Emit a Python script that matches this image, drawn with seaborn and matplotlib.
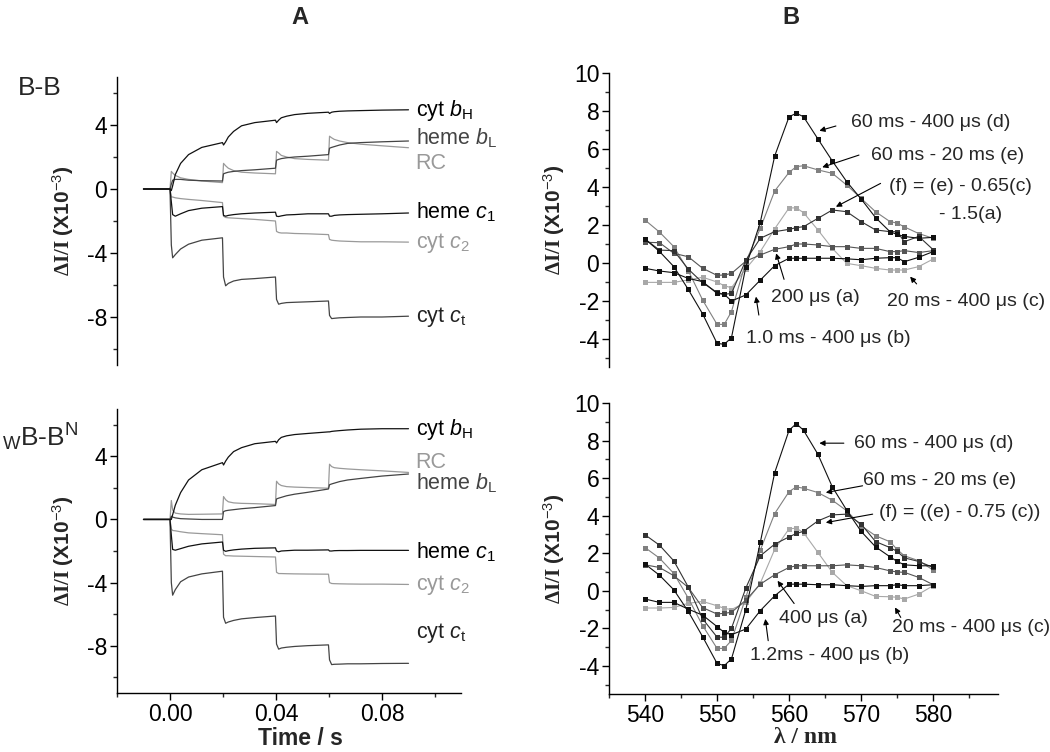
import pandas as pd
import seaborn as sns
import matplotlib.pyplot as plt
from matplotlib.ticker import MultipleLocator

sns.set_style('ticks')
plt.rcParams['font.family'] = ['Liberation Sans', 'DejaVu Sans']
plt.rcParams['mathtext.fontset'] = 'custom'
plt.rcParams['mathtext.rm'] = 'Liberation Sans'
plt.rcParams['mathtext.it'] = 'Liberation Sans:italic'
plt.rcParams['mathtext.bf'] = 'Liberation Serif:bold'
plt.rcParams['axes.unicode_minus'] = False

# ---- panel A: flash-induced kinetic traces (time in s, dI/I x1e-3) ----
time_s = [-0.01, 0.0, 0.0005, 0.001, 0.002, 0.004, 0.007, 0.012, 0.0198, 0.0202,
          0.021, 0.022, 0.024, 0.027, 0.032, 0.0398, 0.0402, 0.041, 0.042, 0.044,
          0.047, 0.052, 0.0598, 0.0602, 0.061, 0.062, 0.064, 0.067, 0.072, 0.08, 0.09]

bb_cyt_bH = [0, 0, -0.1, 0.2, 0.9, 1.6, 2.15, 2.6, 2.9, 2.75, 2.95, 3.25, 3.6, 3.95, 4.15, 4.3,
             4.15, 4.3, 4.45, 4.55, 4.65, 4.73, 4.8, 4.72, 4.8, 4.83, 4.86, 4.88, 4.9, 4.93, 4.95]
bb_heme_bL = [0, 0, 0.3, 0.55, 0.6, 0.6, 0.55, 0.52, 0.5, 0.95, 1.0, 1.05, 1.1, 1.15, 1.2, 1.3,
              1.8, 1.85, 1.9, 1.95, 2.0, 2.05, 2.15, 2.55, 2.6, 2.65, 2.75, 2.85, 2.9, 2.95, 3.0]
bb_RC = [0, 0, 1.1, 1.0, 0.85, 0.7, 0.6, 0.5, 0.4, 1.6, 1.45, 1.3, 1.15, 1.05, 1.0, 0.95,
         2.35, 2.25, 2.1, 2.0, 1.9, 1.85, 1.8, 3.3, 3.2, 3.1, 3.0, 2.9, 2.8, 2.7, 2.58]
bb_heme_c1 = [0, 0, -0.8, -1.6, -1.7, -1.55, -1.35, -1.2, -1.1, -1.65, -1.7, -1.65, -1.6, -1.55, -1.5, -1.45,
              -1.7, -1.72, -1.68, -1.62, -1.6, -1.55, -1.55, -1.7, -1.7, -1.65, -1.62, -1.6, -1.58, -1.55, -1.5]
bb_cyt_c2 = [0, 0, -0.5, -0.5, -0.55, -0.6, -0.65, -0.72, -0.85, -1.7, -1.78, -1.8, -1.82, -1.85, -1.9, -2.0,
             -2.65, -2.72, -2.75, -2.75, -2.78, -2.8, -2.85, -3.15, -3.2, -3.22, -3.25, -3.27, -3.3, -3.3, -3.32]
bb_cyt_ct = [0, 0, -3.5, -4.3, -4.1, -3.75, -3.45, -3.2, -3.05, -5.5, -6.05, -5.9, -5.75, -5.65, -5.6, -5.5,
             -6.9, -7.2, -7.15, -7.1, -7.08, -7.05, -7.0, -7.9, -8.1, -8.08, -8.05, -8.03, -8.0, -8.0, -7.95]

wbn_cyt_bH = [0, 0, 0.0, 0.3, 0.9, 1.7, 2.5, 3.15, 3.6, 3.45, 3.7, 3.95, 4.3, 4.55, 4.8, 4.95,
              4.85, 5.05, 5.2, 5.3, 5.38, 5.45, 5.55, 5.55, 5.58, 5.6, 5.63, 5.67, 5.72, 5.75, 5.75]
wbn_heme_bL = [0, 0, 0.2, 0.15, 0.1, 0.05, 0.03, 0.0, 0.0, 0.5, 0.55, 0.58, 0.62, 0.68, 0.75, 0.88,
               1.3, 1.35, 1.4, 1.5, 1.6, 1.72, 1.93, 2.2, 2.25, 2.3, 2.4, 2.5, 2.6, 2.75, 2.88]
wbn_RC = [0, 0, 1.2, 0.6, 0.4, 0.35, 0.32, 0.33, 0.35, 1.45, 1.25, 1.12, 1.05, 1.02, 1.0, 0.95,
          2.42, 2.25, 2.15, 2.08, 2.05, 2.02, 1.98, 3.5, 3.35, 3.28, 3.24, 3.2, 3.15, 3.08, 2.98]
wbn_heme_c1 = [0, 0, -1.0, -1.9, -1.95, -1.85, -1.7, -1.55, -1.43, -1.95, -2.02, -1.98, -1.93, -1.88, -1.83, -1.8,
               -2.0, -2.05, -2.0, -1.98, -1.95, -1.95, -1.93, -2.0, -2.0, -1.98, -1.97, -1.97, -1.96, -1.96, -1.96]
wbn_cyt_c2 = [0, 0, -0.6, -0.7, -0.72, -0.78, -0.85, -0.9, -0.97, -2.2, -2.3, -2.3, -2.32, -2.33, -2.35, -2.38,
              -3.35, -3.43, -3.43, -3.44, -3.45, -3.46, -3.47, -4.0, -4.06, -4.07, -4.08, -4.09, -4.1, -4.1, -4.12]
wbn_cyt_ct = [0, 0, -4.0, -4.8, -4.45, -3.95, -3.65, -3.45, -3.28, -6.2, -6.58, -6.5, -6.4, -6.3, -6.22, -6.12,
              -7.9, -8.22, -8.15, -8.1, -8.05, -8.0, -7.95, -8.9, -9.2, -9.18, -9.17, -9.15, -9.15, -9.13, -9.12]

# ---- panel B: difference spectra (nm, dI/I x1e-3) ----
wavelength = [540, 542, 544, 546, 548, 550, 551, 552, 554, 556, 558, 560,
              561, 562, 564, 566, 568, 570, 572, 574, 575, 576, 578, 580]

top_a = [1.09, 1.07, 0.51, 0.33, -0.28, -0.65, -0.63, -0.55, 0.10, 0.42, 0.72, 0.86,
         1.00, 1.00, 0.95, 0.86, 0.86, 0.77, 0.77, 0.60, 0.60, 0.65, 0.55, 0.65]
top_b = [-0.28, -0.42, -0.51, -0.81, -0.98, -1.60, -1.65, -2.00, -1.68, -0.90, -0.14, 0.25,
         0.25, 0.25, 0.25, 0.25, 0.22, 0.17, 0.25, 0.28, 0.28, 0.07, 0.30, 0.60]
top_c = [-1.02, -1.02, -1.02, -0.89, -0.75, -1.00, -1.20, -1.30, -0.30, 0.60, 1.80, 2.90,
         2.90, 2.65, 1.74, 0.77, -0.02, -0.14, -0.28, -0.37, -0.37, -0.37, -0.19, 0.21]
top_d = [1.26, 0.61, -0.19, -1.39, -2.68, -4.23, -4.28, -3.93, -0.20, 2.14, 5.63, 7.70,
         7.88, 7.70, 6.53, 5.37, 4.28, 3.37, 2.39, 1.65, 1.50, 1.40, 1.30, 1.35]
top_e = [2.26, 1.63, 0.86, -0.40, -1.95, -3.23, -3.23, -2.56, 0.07, 1.82, 3.79, 4.77,
         5.07, 5.12, 4.90, 4.72, 4.10, 3.40, 2.70, 2.18, 2.10, 1.90, 1.55, 1.30]
top_f = [1.26, 0.68, 0.65, -0.32, -1.04, -1.55, -1.65, -1.60, 0.15, 1.30, 1.65, 1.77,
         1.86, 1.91, 2.35, 2.79, 2.70, 2.18, 1.74, 1.65, 1.65, 1.12, 1.40, 0.70]

bot_a = [1.38, 1.24, 0.80, 0.18, -0.90, -1.24, -1.20, -1.15, -0.50, 0.35, 0.85, 1.24,
         1.33, 1.33, 1.33, 1.33, 1.38, 1.33, 1.24, 1.06, 1.00, 0.98, 0.71, 0.32]
bot_b = [-0.44, -0.62, -0.62, -0.98, -1.30, -1.91, -2.22, -2.34, -2.04, -1.06, -0.27, 0.35,
         0.35, 0.35, 0.32, 0.32, 0.27, 0.23, 0.27, 0.27, 0.32, 0.27, 0.27, 0.32]
bot_c = [-0.92, -0.92, -0.89, -0.67, -0.57, -0.80, -0.94, -1.00, -0.62, 0.40, 2.20, 3.30,
         3.33, 3.10, 2.04, 0.98, 0.27, 0.00, -0.30, -0.32, -0.35, -0.44, -0.18, 0.27]
bot_d = [1.42, 0.83, 0.05, -1.10, -2.45, -3.87, -3.99, -3.63, -1.00, 2.57, 6.29, 8.55,
         8.90, 8.55, 7.27, 5.53, 4.29, 3.16, 2.34, 1.81, 1.56, 1.38, 1.33, 1.33]
bot_e = [2.30, 1.74, 0.92, -0.39, -1.86, -3.07, -3.07, -2.65, -0.35, 2.16, 4.11, 5.28,
         5.53, 5.46, 5.23, 4.82, 4.26, 3.46, 2.93, 2.61, 2.20, 1.86, 1.60, 1.10]
bot_f = [2.98, 2.43, 1.59, 0.20, -1.50, -2.47, -2.48, -2.00, 0.15, 1.86, 2.48, 2.87,
         3.05, 3.16, 3.72, 4.04, 4.08, 3.55, 2.62, 2.30, 2.10, 1.75, 1.56, 1.24]

trace_colors = {'cyt bH': '#111111', 'heme bL': '#444444', 'RC': '#9a9a9a',
                'heme c1': '#111111', 'cyt c2': '#9a9a9a', 'cyt ct': '#444444'}
spec_colors = {'c': '#a8a8a8', 'e': '#808080', 'a': '#555555',
               'f': '#333333', 'b': '#111111', 'd': '#111111'}

TICK_FS = 16.5
LBL = r"$\mathbf{\Delta I/I}$ (X10$^{-3}$)"


def draw_traces(ax, traces):
    rows = []
    for name, vals in traces.items():
        for t, v in zip(time_s, vals):
            rows.append({'time': t, 'signal': v, 'trace': name})
    df = pd.DataFrame(rows)
    sns.lineplot(data=df, x='time', y='signal', hue='trace', palette=trace_colors,
                 estimator=None, sort=False, legend=False, linewidth=0.9, ax=ax)
    ax.set_xlim(-0.02, 0.11)
    ax.set_ylim(-11, 7)
    ax.yaxis.set_major_locator(MultipleLocator(4))
    ax.yaxis.set_minor_locator(MultipleLocator(2))
    ax.xaxis.set_major_locator(MultipleLocator(0.04))
    ax.xaxis.set_minor_locator(MultipleLocator(0.02))
    ax.set_ylabel(LBL, fontsize=15, fontweight='bold')
    ax.yaxis.set_label_coords(-0.118, 0.5)


def draw_spectra(ax, series):
    rows = []
    for name in ['c', 'e', 'a', 'f', 'b', 'd']:
        for w, v in zip(wavelength, series[name]):
            rows.append({'wl': w, 'dI': v, 'series': name})
    df = pd.DataFrame(rows)
    sns.lineplot(data=df, x='wl', y='dI', hue='series', palette=spec_colors,
                 estimator=None, sort=False, legend=False, linewidth=0.8,
                 marker='s', markersize=3.6, markeredgewidth=0, ax=ax)
    ax.set_xlim(535, 589)
    ax.set_ylim(-5.5, 10)
    ax.yaxis.set_major_locator(MultipleLocator(2))
    ax.yaxis.set_minor_locator(MultipleLocator(1))
    ax.xaxis.set_major_locator(MultipleLocator(10))
    ax.xaxis.set_minor_locator(MultipleLocator(5))
    ax.set_ylabel(LBL, fontsize=15, fontweight='bold')
    ax.yaxis.set_label_coords(-0.108, 0.5)


def style(ax, bottom):
    sns.despine(ax=ax, bottom=not bottom)
    for s in ax.spines.values():
        s.set_linewidth(1.0)
        s.set_color('black')
    ax.tick_params(which='major', direction='out', length=5, width=1,
                   labelsize=TICK_FS, pad=2, colors='black')
    ax.tick_params(which='minor', direction='out', length=3, width=1)
    if not bottom:
        ax.set_xticks([])
        ax.xaxis.set_minor_locator(plt.NullLocator())
        ax.set_xlabel('')


def arrow(ax, xy_from, xy_to):
    ax.annotate('', xy=xy_to, xytext=xy_from,
                arrowprops=dict(arrowstyle='-|>', color='black', lw=0.8,
                                mutation_scale=8, shrinkA=0, shrinkB=0))


fig = plt.figure(figsize=(10.5, 7.52), dpi=100)
W, H = 1050.0, 752.0
ax_tl = fig.add_axes([117 / W, 1 - 365 / H, 344.5 / W, 288 / H])
ax_bl = fig.add_axes([117 / W, 1 - 693 / H, 344.5 / W, 284 / H])
ax_tr = fig.add_axes([609 / W, 1 - 367.5 / H, 389 / W, 294.5 / H])
ax_br = fig.add_axes([609 / W, 1 - 694 / H, 389 / W, 291 / H])

draw_traces(ax_tl, {'cyt ct': bb_cyt_ct, 'cyt c2': bb_cyt_c2, 'RC': bb_RC,
                    'heme bL': bb_heme_bL, 'heme c1': bb_heme_c1, 'cyt bH': bb_cyt_bH})
draw_traces(ax_bl, {'cyt ct': wbn_cyt_ct, 'cyt c2': wbn_cyt_c2, 'RC': wbn_RC,
                    'heme bL': wbn_heme_bL, 'heme c1': wbn_heme_c1, 'cyt bH': wbn_cyt_bH})
draw_spectra(ax_tr, {'a': top_a, 'b': top_b, 'c': top_c, 'd': top_d, 'e': top_e, 'f': top_f})
draw_spectra(ax_br, {'a': bot_a, 'b': bot_b, 'c': bot_c, 'd': bot_d, 'e': bot_e, 'f': bot_f})

style(ax_tl, False)
style(ax_bl, True)
style(ax_tr, False)
style(ax_br, True)

ax_bl.xaxis.set_major_formatter(plt.FuncFormatter(lambda v, p: f'{v:.2f}'))
ax_bl.set_xlabel('Time / s', fontsize=16.5, fontweight='bold')
ax_bl.xaxis.set_label_coords((300 - 117) / 344.5, -0.12)
ax_br.set_xlabel('λ / nm', fontsize=17, fontweight='bold', fontfamily='Liberation Serif')
ax_br.xaxis.set_label_coords(0.504, -0.115)

# trace labels
TX = 0.0927
lab_fs = 15.5
for ax, pos in [(ax_tl, {'cyt bH': 4.9, 'heme bL': 3.2, 'RC': 1.6, 'heme c1': -1.48,
                         'cyt c2': -3.35, 'cyt ct': -8.0}),
                (ax_bl, {'cyt bH': 5.72, 'RC': 3.6, 'heme bL': 2.3, 'heme c1': -2.06,
                         'cyt c2': -4.16, 'cyt ct': -7.2})]:
    txt = {'cyt bH': r'cyt $b_{\mathrm{H}}$', 'heme bL': r'heme $b_{\mathrm{L}}$', 'RC': 'RC',
           'heme c1': r'heme $c_{\mathrm{1}}$', 'cyt c2': r'cyt $c_{\mathrm{2}}$',
           'cyt ct': r'cyt $c_{\mathrm{t}}$'}
    tcol = {'cyt bH': 'black', 'heme bL': '#444444', 'RC': '#999999',
            'heme c1': 'black', 'cyt c2': '#999999', 'cyt ct': '#222222'}
    for k, yv in pos.items():
        ax.text(TX, yv, txt[k], color=tcol[k], fontsize=lab_fs, ha='left', va='center',
                clip_on=False)

# spectra annotations
ANN_FS = 14
ax_tr.text(568.6, 7.37, '60 ms - 400 μs (d)', fontsize=ANN_FS, va='center')
arrow(ax_tr, (566.5, 7.21), (564.2, 6.96))
ax_tr.text(571.4, 5.68, '60 ms - 20 ms (e)', fontsize=ANN_FS, va='center')
arrow(ax_tr, (569.7, 5.68), (564.6, 5.04))
ax_tr.text(573.9, 4.05, '(f) = (e) - 0.65(c)', fontsize=ANN_FS, va='center', clip_on=False)
ax_tr.text(580.8, 2.53, '- 1.5(a)', fontsize=ANN_FS, va='center')
arrow(ax_tr, (572.7, 4.19), (566.5, 2.96))
ax_tr.text(557.5, -1.84, '200 μs (a)', fontsize=ANN_FS, va='center')
arrow(ax_tr, (559.3, -0.86), (558.2, 0.51))
ax_tr.text(573.6, -2.05, '20 ms - 400 μs (c)', fontsize=ANN_FS, va='center', clip_on=False)
arrow(ax_tr, (577.7, -1.1), (576.8, -0.72))
ax_tr.text(554.0, -3.95, '1.0 ms - 400 μs (b)', fontsize=ANN_FS, va='center')
arrow(ax_tr, (555.8, -2.74), (555.4, -1.77))

ax_br.text(569.0, 7.82, '60 ms - 400 μs (d)', fontsize=ANN_FS, va='center')
arrow(ax_br, (567.6, 7.86), (564.2, 7.86))
ax_br.text(570.3, 5.85, '60 ms - 20 ms (e)', fontsize=ANN_FS, va='center')
arrow(ax_br, (570.2, 5.59), (565.1, 5.23))
ax_br.text(572.5, 4.15, '(f) = ((e) - 0.75 (c))', fontsize=ANN_FS, va='center', clip_on=False)
arrow(ax_br, (571.6, 4.08), (565.1, 3.63))
ax_br.text(558.6, -1.49, '400 μs (a)', fontsize=ANN_FS, va='center')
arrow(ax_br, (560.7, -0.68), (558.4, 0.53))
ax_br.text(574.3, -1.97, '20 ms - 400 μs (c)', fontsize=ANN_FS, va='center', clip_on=False)
arrow(ax_br, (575.5, -1.42), (574.7, -0.89))
ax_br.text(554.6, -3.46, '1.2ms - 400 μs (b)', fontsize=ANN_FS, va='center')
arrow(ax_br, (557.1, -2.66), (556.7, -1.5))

# panel titles and strain names
fig.text(300 / W, 1 - 18 / H, 'A', fontsize=17, fontweight='bold', ha='center', va='center')
fig.text(791 / W, 1 - 18 / H, 'B', fontsize=17, fontweight='bold', ha='center', va='center')
fig.text(18 / W, 1 - 88 / H, 'B-B', fontsize=19, ha='left', va='center')
fig.text(2 / W, 1 - 437 / H, r'$_{\mathrm{W}}$B-B$^{\mathrm{N}}$', fontsize=19, ha='left', va='center')

fig.savefig('out.png', dpi=100)
